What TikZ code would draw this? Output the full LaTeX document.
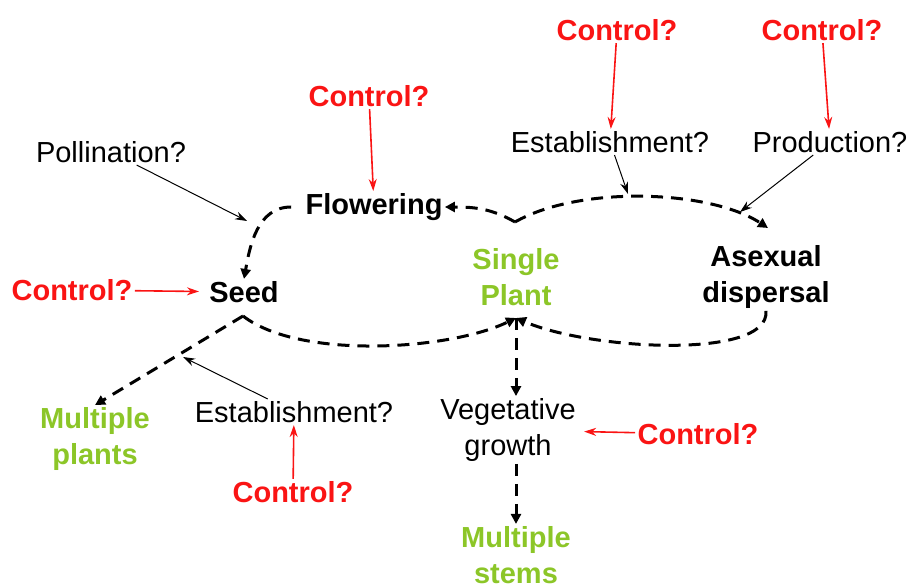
\documentclass[tikz,border=0pt]{standalone}
\usepackage{fontspec}
\setmainfont{Liberation Sans}
\usetikzlibrary{arrows.meta}
\definecolor{leafgreen}{RGB}{140,198,40}
\definecolor{ctrlred}{RGB}{250,20,20}
\begin{document}
\begin{tikzpicture}[x=0.5pt,y=-0.5pt,
  every node/.style={font=\fontsize{14.5}{18}\selectfont,align=center,inner sep=1pt},
  ctrl/.style={text=ctrlred,font=\fontsize{14.5}{18}\selectfont\bfseries},
  stage/.style={font=\fontsize{14.5}{18}\selectfont\bfseries},
  plant/.style={text=leafgreen,font=\fontsize{14.5}{18}\selectfont\bfseries},
  cycle/.style={line width=1.5pt,dash pattern=on 6pt off 4pt,-{Triangle[length=5pt,width=5pt]}},
  redarr/.style={ctrlred,line width=0.8pt,-{Stealth[length=6pt,width=4pt]}},
  thin/.style={line width=0.5pt,-{Stealth[length=6pt,width=4pt]}}]
\useasboundingbox (0,0) rectangle (911,588);
% labels
\node[ctrl] (c1) at (617,30) {Control?};\node[ctrl] (c2) at (822,30) {Control?};\node[ctrl] (c3) at (369,96) {Control?};
\node[ctrl] (c4) at (72,290) {Control?};\node[ctrl] (c5) at (293,492) {Control?};\node[ctrl] (c6) at (698,434) {Control?};
\node (poll) at (111,152) {Pollination?};\node (est1) at (610,142) {Establishment?};\node (prod) at (830,142) {Production?};
\node (est2) at (294,412) {Establishment?};\node (veg) at (508,430) {Vegetative\\growth};
\node[stage] (flow) at (374,207) {Flowering};\node[stage] (seed) at (244,292) {Seed};\node[stage] (asex) at (766,277) {Asexual\\dispersal};
\node[plant] (single) at (516,277) {Single\\Plant};\node[plant] (mplants) at (95,439) {Multiple\\plants};\node[plant] (mstems) at (516,555) {Multiple\\stems};
% points on the cycle
\coordinate (sptop) at (515,222);\coordinate (spbot) at (516,318);\coordinate (seedbot) at (243,316);
\coordinate (estpt) at (628,194);\coordinate (prodpt) at (740,212);\coordinate (pollpt) at (247,221);\coordinate (mppt) at (183,357);
% life cycle
\draw[cycle] (sptop) to[out=150,in=0] (flow.east);
\draw[cycle] ([xshift=-6pt]flow.west) to[out=180,in=80] (seed.north);
\draw[cycle] (sptop) .. controls (580,185) and (710,190) .. (768,228);
\draw[cycle] (asex.south) .. controls (770,360) and (590,350) .. (spbot);
\draw[cycle] (seedbot) .. controls (300,360) and (450,350) .. (spbot);
\draw[cycle] (seedbot) -- (mplants.north);
\draw[cycle] (spbot) -- (spbot |- veg.north);\draw[cycle] (spbot |- veg.south) -- (mstems.north);
% factors
\draw[thin] (poll) -- (pollpt);\draw[thin] (est1) -- (estpt);\draw[thin] (prod) -- (prodpt);\draw[thin] (est2) -- (mppt);
\draw[redarr] (c1) -- (est1);\draw[redarr] (c2) -- (prod);\draw[redarr] (c3) -- (flow);
\draw[redarr,shorten >=4pt] (c4) -- (seed);\draw[redarr] (c5) -- (est2);\draw[redarr,shorten >=3pt] (c6) -- (veg);
\end{tikzpicture}
\end{document}
